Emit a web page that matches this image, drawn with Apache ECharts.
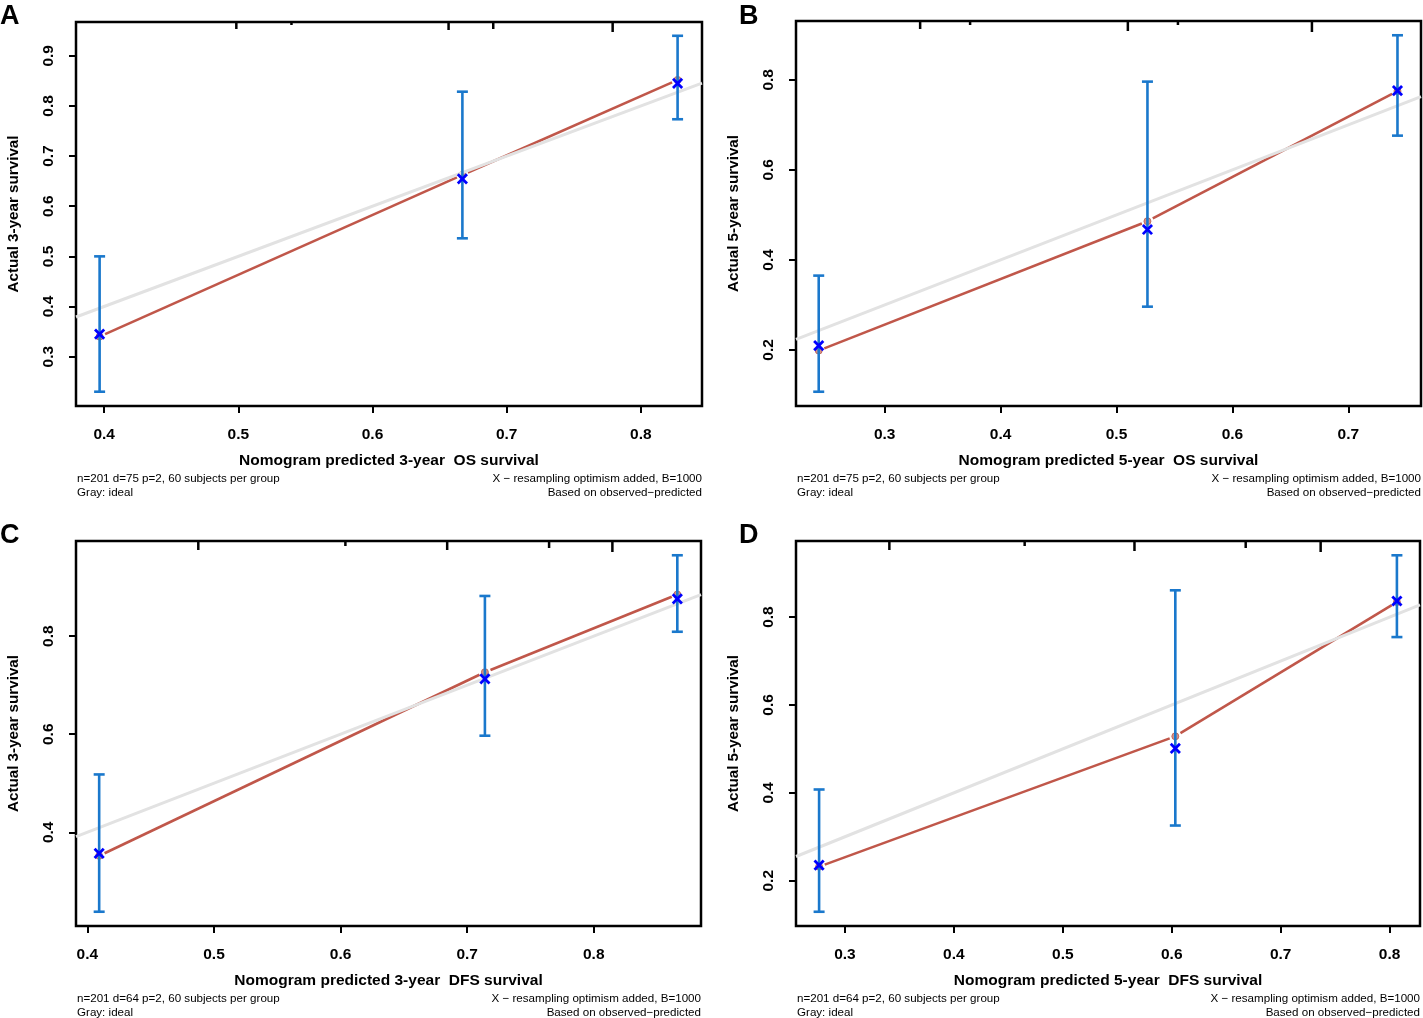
<!DOCTYPE html>
<html>
<head>
<meta charset="utf-8">
<title>Calibration curves</title>
<script src="https://cdn.jsdelivr.net/npm/echarts@6/dist/echarts.min.js"></script>
<style>
body{margin:0;padding:0;background:#fff;}
#chart{width:1423px;height:1018px;}
</style>
</head>
<body>
<div id="chart"></div>
<script>
// panel A: 3-year OS
var predA = [0.3966, 0.667, 0.8274];
var obsA  = [0.340, 0.6625, 0.852];
var corA  = [0.345, 0.6546, 0.845];
var loA   = [0.230, 0.536, 0.7735];
var hiA   = [0.500, 0.8285, 0.940];
var riskA = [0.4985, 0.5396, 0.6567, 0.690, 0.779];
var freqA = [7, 3, 8, 7, 10];
var xlimA = [0.379, 0.8456];
var ylimA = [0.2015, 0.9675];
var xtA = [0.4, 0.5, 0.6, 0.7, 0.8];
var ytA = [0.3, 0.4, 0.5, 0.6, 0.7, 0.8, 0.9];

// panel B: 5-year OS
var predB = [0.2431, 0.5267, 0.7424];
var obsB  = [0.1985, 0.4858, 0.775];
var corB  = [0.2096, 0.4674, 0.776];
var loB   = [0.107, 0.296, 0.676];
var hiB   = [0.365, 0.796, 0.899];
var riskB = [0.3306, 0.3737, 0.5098, 0.553, 0.6686];
var freqB = [8, 4, 10, 4, 11];
var xlimB = [0.2235, 0.7627];
var ylimB = [0.0753, 0.9307];
var xtB = [0.3, 0.4, 0.5, 0.6, 0.7];
var ytB = [0.2, 0.4, 0.6, 0.8];

// panel C: 3-year DFS
var predC = [0.4093, 0.714, 0.866];
var obsC  = [0.352, 0.7265, 0.885];
var corC  = [0.357, 0.713, 0.876];
var loC   = [0.238, 0.597, 0.809];
var hiC   = [0.518, 0.882, 0.965];
var riskC = [0.4876, 0.6038, 0.6842, 0.7647, 0.8147];
var freqC = [9, 5, 9, 7, 11];
var xlimC = [0.391, 0.8847];
var ylimC = [0.2089, 0.9941];
var xtC = [0.4, 0.5, 0.6, 0.7, 0.8];
var ytC = [0.4, 0.6, 0.8];

// panel D: 5-year DFS
var predD = [0.2763, 0.6033, 0.8067];
var obsD  = [0.232, 0.5286, 0.834];
var corD  = [0.2357, 0.5013, 0.8365];
var loD   = [0.1294, 0.3256, 0.7544];
var hiD   = [0.4076, 0.8608, 0.9405];
var riskD = [0.3408, 0.465, 0.5658, 0.6679, 0.7367];
var freqD = [9, 5, 10, 7, 11];
var xlimD = [0.2551, 0.8279];
var ylimD = [0.097, 0.973];
var xtD = [0.3, 0.4, 0.5, 0.6, 0.7, 0.8];
var ytD = [0.2, 0.4, 0.6, 0.8];

var font = '"Liberation Sans", Arial, Helvetica, sans-serif';
var panels = [
  {letter:'A', pred:predA, obs:obsA, cor:corA, lo:loA, hi:hiA, risk:riskA, freq:freqA, xlim:xlimA, ylim:ylimA, xt:xtA, yt:ytA,
   xname:'Nomogram predicted 3-year  OS survival', yname:'Actual 3-year survival', note:'n=201 d=75 p=2, 60 subjects per group',
   grid:{left:76, top:22, width:626, height:384}, lx:0, ly:3},
  {letter:'B', pred:predB, obs:obsB, cor:corB, lo:loB, hi:hiB, risk:riskB, freq:freqB, xlim:xlimB, ylim:ylimB, xt:xtB, yt:ytB,
   xname:'Nomogram predicted 5-year  OS survival', yname:'Actual 5-year survival', note:'n=201 d=75 p=2, 60 subjects per group',
   grid:{left:796, top:21, width:625, height:385}, lx:739, ly:3},
  {letter:'C', pred:predC, obs:obsC, cor:corC, lo:loC, hi:hiC, risk:riskC, freq:freqC, xlim:xlimC, ylim:ylimC, xt:xtC, yt:ytC,
   xname:'Nomogram predicted 3-year  DFS survival', yname:'Actual 3-year survival', note:'n=201 d=64 p=2, 60 subjects per group',
   grid:{left:76, top:541, width:625, height:385}, lx:0, ly:522},
  {letter:'D', pred:predD, obs:obsD, cor:corD, lo:loD, hi:hiD, risk:riskD, freq:freqD, xlim:xlimD, ylim:ylimD, xt:xtD, yt:ytD,
   xname:'Nomogram predicted 5-year  DFS survival', yname:'Actual 5-year survival', note:'n=201 d=64 p=2, 60 subjects per group',
   grid:{left:796, top:541, width:624, height:385}, lx:739, ly:522}
];

var grids = [], xAxes = [], yAxes = [], series = [], graphics = [];

function fmt(v){ return (Math.round(v * 10) / 10).toFixed(1); }

panels.forEach(function (p, i) {
  grids.push({left:p.grid.left, top:p.grid.top, width:p.grid.width, height:p.grid.height,
    show:true, borderColor:'#000', borderWidth:2.5, backgroundColor:'transparent'});
  xAxes.push({type:'value', gridIndex:i, min:p.xlim[0], max:p.xlim[1],
    axisLine:{show:false}, splitLine:{show:false},
    axisTick:{show:true, length:7, customValues:p.xt, lineStyle:{color:'#000', width:2}},
    axisLabel:{customValues:p.xt, formatter:fmt, margin:21, color:'#000', fontFamily:font, fontWeight:'bold', fontSize:15.5},
    name:p.xname, nameLocation:'middle', nameGap:47,
    nameTextStyle:{color:'#000', fontFamily:font, fontWeight:'bold', fontSize:15.5}});
  yAxes.push({type:'value', gridIndex:i, min:p.ylim[0], max:p.ylim[1],
    axisLine:{show:false}, splitLine:{show:false},
    axisTick:{show:true, length:7, customValues:p.yt, lineStyle:{color:'#000', width:2}},
    axisLabel:{customValues:p.yt, formatter:fmt, rotate:90, margin:19, color:'#000', fontFamily:font, fontWeight:'bold', fontSize:15.5},
    name:p.yname, nameLocation:'middle', nameGap:55,
    nameTextStyle:{color:'#000', fontFamily:font, fontWeight:'bold', fontSize:15.2}});

  // predicted-vs-observed segments (with a gap at each point)
  var segs = [];
  for (var k = 1; k < p.pred.length; k++) segs.push([p.pred[k-1], p.obs[k-1], p.pred[k], p.obs[k]]);
  series.push({type:'custom', xAxisIndex:i, yAxisIndex:i, z:2, silent:true, data:segs,
    renderItem:function (params, api) {
      var a = api.coord([api.value(0), api.value(1)]);
      var b = api.coord([api.value(2), api.value(3)]);
      var dx = b[0] - a[0], dy = b[1] - a[1], len = Math.sqrt(dx*dx + dy*dy), g = 6;
      var ux = dx / len, uy = dy / len;
      return {type:'line', shape:{x1:a[0]+ux*g, y1:a[1]+uy*g, x2:b[0]-ux*g, y2:b[1]-uy*g},
        style:{stroke:'#c0574a', lineWidth:2.6}};
    }});
  series.push({type:'scatter', xAxisIndex:i, yAxisIndex:i, z:2, silent:true, symbol:'circle', symbolSize:7,
    itemStyle:{color:'#c8786c', borderColor:'#b85a4e', borderWidth:1},
    data:p.pred.map(function (x, k) { return [x, p.obs[k]]; })});

  // ideal line
  series.push({type:'line', xAxisIndex:i, yAxisIndex:i, z:3, silent:true, symbol:'none',
    lineStyle:{color:'#e2e2e2', width:3}, data:[[p.xlim[0], p.xlim[0]], [p.xlim[1], p.xlim[1]]]});

  // error bars
  series.push({type:'custom', xAxisIndex:i, yAxisIndex:i, z:4, silent:true,
    data:p.pred.map(function (x, k) { return [x, p.lo[k], p.hi[k]]; }),
    renderItem:function (params, api) {
      var lo = api.coord([api.value(0), api.value(1)]);
      var hi = api.coord([api.value(0), api.value(2)]);
      var st = {stroke:'#1a78cc', lineWidth:2.6};
      return {type:'group', children:[
        {type:'line', shape:{x1:lo[0], y1:lo[1], x2:hi[0], y2:hi[1]}, style:st},
        {type:'line', shape:{x1:lo[0]-5.5, y1:lo[1], x2:lo[0]+5.5, y2:lo[1]}, style:st},
        {type:'line', shape:{x1:hi[0]-5.5, y1:hi[1], x2:hi[0]+5.5, y2:hi[1]}, style:st}
      ]};
    }});

  // bias-corrected estimates (X)
  series.push({type:'custom', xAxisIndex:i, yAxisIndex:i, z:5, silent:true,
    data:p.pred.map(function (x, k) { return [x, p.cor[k]]; }),
    renderItem:function (params, api) {
      var c = api.coord([api.value(0), api.value(1)]), h = 4.6;
      var st = {stroke:'#0000ff', lineWidth:2.8};
      return {type:'group', children:[
        {type:'line', shape:{x1:c[0]-h, y1:c[1]-h, x2:c[0]+h, y2:c[1]+h}, style:st},
        {type:'line', shape:{x1:c[0]-h, y1:c[1]+h, x2:c[0]+h, y2:c[1]-h}, style:st}
      ]};
    }});

  // distribution of predictions along the top
  var top = p.ylim[1];
  series.push({type:'custom', xAxisIndex:i, yAxisIndex:i, z:6, silent:true, clip:false,
    data:p.risk.map(function (x, k) { return [x, p.freq[k]]; }),
    renderItem:function (params, api) {
      var c = api.coord([api.value(0), top]);
      return {type:'line', shape:{x1:c[0], y1:c[1], x2:c[0], y2:c[1] + api.value(1)},
        style:{stroke:'#000', lineWidth:2.5}};
    }});

  // panel letter and footnotes
  var g = p.grid, yb = g.top + g.height;
  graphics.push({type:'text', left:p.lx, top:p.ly,
    style:{text:p.letter, fontFamily:font, fontWeight:'bold', fontSize:27, fill:'#000'}});
  graphics.push({type:'text', x:g.left + 1, y:yb + 66,
    style:{text:p.note + '\nGray: ideal', fontFamily:font, fontSize:11.6, lineHeight:14, fill:'#000', textAlign:'left', textVerticalAlign:'top'}});
  graphics.push({type:'text', x:g.left + g.width, y:yb + 66,
    style:{text:'X \u2212 resampling optimism added, B=1000\nBased on observed\u2212predicted', fontFamily:font, fontSize:11.6, lineHeight:14, fill:'#000', textAlign:'right', textVerticalAlign:'top'}});
});

var myChart = echarts.init(document.getElementById('chart'), null, {renderer:'canvas'});
myChart.setOption({
  animation:false,
  grid:grids,
  xAxis:xAxes,
  yAxis:yAxes,
  series:series,
  graphic:graphics
});
</script>
</body>
</html>
